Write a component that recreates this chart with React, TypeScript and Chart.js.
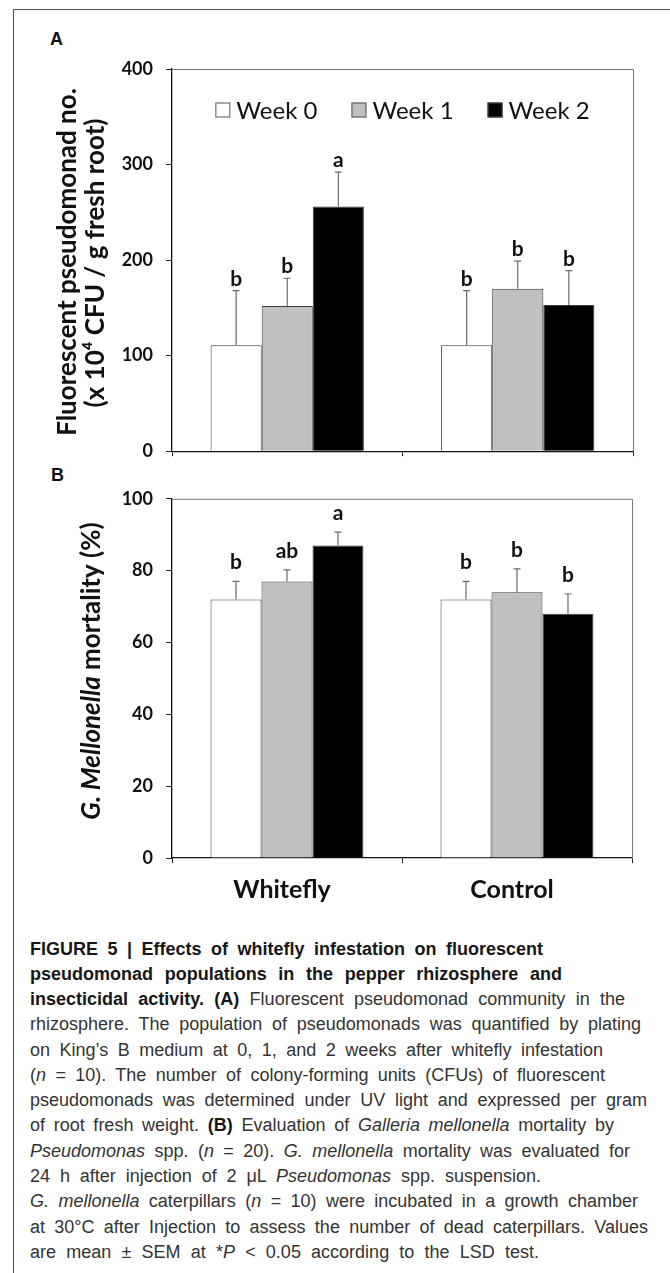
import React, { useEffect, useRef } from 'react';
import { Chart, registerables } from 'chart.js';

Chart.register(...registerables);

// ---------------- data ----------------
const categories = ['Whitefly', 'Control'];
const weekLabels = ['Week 0', 'Week 1', 'Week 2'];

// Panel A: fluorescent pseudomonad no. (x 10^4 CFU / g fresh root)
const pseudoWeek0 = [111, 111];
const pseudoWeek1 = [152, 170];
const pseudoWeek2 = [256, 153];
const pseudoSem0 = [57, 57];
const pseudoSem1 = [29, 29];
const pseudoSem2 = [36, 36];
const pseudoLetters0 = ['b', 'b'];
const pseudoLetters1 = ['b', 'b'];
const pseudoLetters2 = ['a', 'b'];
const pseudoMin = 0;
const pseudoMax = 400;
const pseudoStep = 100;

// Panel B: G. mellonella mortality (%)
const mortWeek0 = [72, 72];
const mortWeek1 = [77, 74];
const mortWeek2 = [87, 68];
const mortSem0 = [5, 5];
const mortSem1 = [3.2, 6.5];
const mortSem2 = [3.7, 5.5];
const mortLetters0 = ['b', 'b'];
const mortLetters1 = ['ab', 'b'];
const mortLetters2 = ['a', 'b'];
const mortMin = 0;
const mortMax = 100;
const mortStep = 20;

// ---------------- styles ----------------
const FONT = 'Lato, "Open Sans", "DejaVu Sans", sans-serif';
const weekColors = ['#ffffff', '#c0c0c0', '#000000'];
const BAR_BORDER = '#3a3a3a';
const INK = '#111111';

type Seg = { t: string; it?: boolean };
type TitleLine = { x: number; y: number; segs: Seg[] };

function errorLetterPlugin(sems: number[][], letters: string[][], gap: number) {
  return {
    id: 'errLetters',
    afterDatasetsDraw(chart: any) {
      const { ctx } = chart;
      const ys = chart.scales.y;
      chart.data.datasets.forEach((ds: any, i: number) => {
        const meta = chart.getDatasetMeta(i);
        meta.data.forEach((bar: any, j: number) => {
          const v = ds.data[j] as number;
          const e = sems[i][j];
          const yTop = ys.getPixelForValue(v);
          const yErr = ys.getPixelForValue(v + e);
          const x = bar.x;
          ctx.save();
          ctx.strokeStyle = '#6a6a6a';
          ctx.lineWidth = 1.2;
          ctx.beginPath();
          ctx.moveTo(x, yTop);
          ctx.lineTo(x, yErr);
          ctx.moveTo(x - 3.5, yErr);
          ctx.lineTo(x + 3.5, yErr);
          ctx.stroke();
          ctx.fillStyle = INK;
          ctx.font = `bold 21px ${FONT}`;
          ctx.textAlign = 'center';
          ctx.textBaseline = 'alphabetic';
          ctx.fillText(letters[i][j], x, yErr - gap);
          ctx.restore();
        });
      });
    },
  };
}

const framePlugin = {
  id: 'frame',
  beforeDatasetsDraw(chart: any) {
    const { ctx, chartArea } = chart;
    ctx.save();
    ctx.strokeStyle = '#7a7a7a';
    ctx.lineWidth = 1;
    ctx.beginPath();
    ctx.moveTo(chartArea.left, chartArea.top + 0.5);
    ctx.lineTo(chartArea.right + 0.5, chartArea.top + 0.5);
    ctx.lineTo(chartArea.right + 0.5, chartArea.bottom);
    ctx.stroke();
    ctx.restore();
  },
};

function titlePlugin(lines: TitleLine[], size: number) {
  return {
    id: 'rotTitle',
    afterDraw(chart: any) {
      const { ctx } = chart;
      lines.forEach((ln) => {
        ctx.save();
        ctx.translate(ln.x, ln.y);
        ctx.rotate(-Math.PI / 2);
        ctx.fillStyle = INK;
        ctx.textBaseline = 'middle';
        ctx.textAlign = 'left';
        const fonts = ln.segs.map((s) => `${s.it ? 'italic ' : ''}bold ${size}px ${FONT}`);
        let total = 0;
        const widths = ln.segs.map((s, k) => {
          ctx.font = fonts[k];
          const w = ctx.measureText(s.t).width;
          total += w;
          return w;
        });
        let cx = -total / 2;
        ln.segs.forEach((s, k) => {
          ctx.font = fonts[k];
          ctx.fillText(s.t, cx, 0);
          cx += widths[k];
        });
        ctx.restore();
      });
    },
  };
}

function legendPlugin(centerY: number) {
  return {
    id: 'customLegend',
    afterDraw(chart: any) {
      const { ctx, chartArea } = chart;
      const box = 15;
      const boxGap = 6;
      const itemGap = 34;
      ctx.save();
      ctx.font = `24px ${FONT}`;
      const items = chart.data.datasets.map((ds: any) => ({
        label: ds.label as string,
        color: ds.backgroundColor as string,
        w: ctx.measureText(ds.label).width,
      }));
      const total =
        items.reduce((s: number, it: any) => s + box + boxGap + it.w, 0) + itemGap * (items.length - 1);
      let x = (chartArea.left + chartArea.right) / 2 - total / 2;
      items.forEach((it: any) => {
        ctx.fillStyle = it.color;
        ctx.fillRect(x, centerY - box / 2, box, box);
        ctx.strokeStyle = '#555';
        ctx.lineWidth = 1;
        ctx.strokeRect(x + 0.5, centerY - box / 2 + 0.5, box - 1, box - 1);
        ctx.fillStyle = INK;
        ctx.textBaseline = 'middle';
        ctx.textAlign = 'left';
        ctx.fillText(it.label, x + box + boxGap, centerY + 1);
        x += box + boxGap + it.w + itemGap;
      });
      ctx.restore();
    },
  };
}

function buildConfig(p: {
  values: number[][];
  sems: number[][];
  letters: string[][];
  min: number;
  max: number;
  step: number;
  padding: { left: number; right: number; top: number; bottom: number };
  xHeight: number;
  showX: boolean;
  gap: number;
  titles: TitleLine[];
  legendY?: number;
}): any {
  const plugins: any[] = [framePlugin, errorLetterPlugin(p.sems, p.letters, p.gap), titlePlugin(p.titles, 26)];
  if (p.legendY !== undefined) plugins.push(legendPlugin(p.legendY));
  return {
    type: 'bar',
    data: {
      labels: categories,
      datasets: weekLabels.map((label, i) => ({
        label,
        data: p.values[i],
        backgroundColor: weekColors[i],
        borderColor: BAR_BORDER,
        borderWidth: 1,
        categoryPercentage: 0.665,
        barPercentage: 1,
      })),
    },
    options: {
      animation: false,
      responsive: false,
      maintainAspectRatio: false,
      layout: { padding: p.padding },
      plugins: { legend: { display: false }, tooltip: { enabled: false }, title: { display: false } },
      scales: {
        x: {
          offset: true,
          grid: {
            offset: true,
            display: true,
            drawOnChartArea: false,
            drawTicks: true,
            tickLength: 5,
            color: '#222',
            lineWidth: 1,
          },
          border: { display: true, color: '#111', width: 1.3 },
          ticks: {
            display: p.showX,
            font: { family: FONT, size: 25, weight: 'bold' },
            color: INK,
            padding: 12,
            labelOffset: -5,
          },
          afterFit: (s: any) => {
            s.height = p.xHeight;
          },
        },
        y: {
          min: p.min,
          max: p.max,
          grid: { drawOnChartArea: false, drawTicks: true, tickLength: 6, color: '#222', lineWidth: 1 },
          border: { display: true, color: '#111', width: 1.3 },
          ticks: {
            stepSize: p.step,
            font: { family: FONT, size: 18, weight: 'bold' },
            color: INK,
            padding: 13,
          },
          afterFit: (s: any) => {
            s.width = 60;
          },
        },
      },
    },
    plugins,
  };
}

type CapSeg = { t: string; b?: boolean; i?: boolean };
const captionLines: { w: number; segs: CapSeg[] }[] = [
  { w: 513, segs: [{ t: 'FIGURE 5 | Effects of whitefly infestation on fluorescent', b: true }] },
  { w: 532, segs: [{ t: 'pseudomonad populations in the pepper rhizosphere and', b: true }] },
  {
    w: 595,
    segs: [
      { t: 'insecticidal activity. (A)', b: true },
      { t: ' Fluorescent pseudomonad community in the' },
    ],
  },
  { w: 611, segs: [{ t: 'rhizosphere. The population of pseudomonads was quantified by plating' }] },
  { w: 573, segs: [{ t: 'on King\u2019s B medium at 0, 1, and 2 weeks after whitefly infestation' }] },
  {
    w: 575,
    segs: [
      { t: '(' },
      { t: 'n', i: true },
      { t: ' = 10). The number of colony-forming units (CFUs) of fluorescent' },
    ],
  },
  { w: 617, segs: [{ t: 'pseudomonads was determined under UV light and expressed per gram' }] },
  {
    w: 584,
    segs: [
      { t: 'of root fresh weight. ' },
      { t: '(B)', b: true },
      { t: ' Evaluation of ' },
      { t: 'Galleria mellonella', i: true },
      { t: ' mortality by' },
    ],
  },
  {
    w: 600,
    segs: [
      { t: 'Pseudomonas', i: true },
      { t: ' spp. (' },
      { t: 'n', i: true },
      { t: ' = 20). ' },
      { t: 'G. mellonella', i: true },
      { t: ' mortality was evaluated for' },
    ],
  },
  {
    w: 511,
    segs: [
      { t: '24 h after injection of 2 \u03bcL ' },
      { t: 'Pseudomonas', i: true },
      { t: ' spp. suspension.' },
    ],
  },
  {
    w: 608,
    segs: [
      { t: 'G. mellonella', i: true },
      { t: ' caterpillars (' },
      { t: 'n', i: true },
      { t: ' = 10) were incubated in a growth chamber' },
    ],
  },
  { w: 618, segs: [{ t: 'at 30\u00b0C after Injection to assess the number of dead caterpillars. Values' }] },
  {
    w: 509,
    segs: [
      { t: 'are mean \u00b1 SEM at *' },
      { t: 'P', i: true },
      { t: ' < 0.05 according to the LSD test.' },
    ],
  },
];

export default function App() {
  const refA = useRef<HTMLCanvasElement>(null);
  const refB = useRef<HTMLCanvasElement>(null);

  useEffect(() => {
    let cancelled = false;
    const charts: Chart[] = [];
    const build = () => {
      if (cancelled || !refA.current || !refB.current) return;
      charts.push(
        new Chart(
          refA.current,
          buildConfig({
            values: [pseudoWeek0, pseudoWeek1, pseudoWeek2],
            sems: [pseudoSem0, pseudoSem1, pseudoSem2],
            letters: [pseudoLetters0, pseudoLetters1, pseudoLetters2],
            min: pseudoMin,
            max: pseudoMax,
            step: pseudoStep,
            padding: { left: 112, right: 37, top: 69, bottom: 5 },
            xHeight: 8,
            showX: false,
            gap: 5,
            titles: [
              { x: 68, y: 262, segs: [{ t: 'Fluorescent pseudomonad no.' }] },
              { x: 96, y: 263, segs: [{ t: '(x 10\u2074 CFU / g fresh root)' }] },
            ],
            legendY: 110,
          })
        )
      );
      charts.push(
        new Chart(
          refB.current,
          buildConfig({
            values: [mortWeek0, mortWeek1, mortWeek2],
            sems: [mortSem0, mortSem1, mortSem2],
            letters: [mortLetters0, mortLetters1, mortLetters2],
            min: mortMin,
            max: mortMax,
            step: mortStep,
            padding: { left: 112, right: 38, top: 19, bottom: 7 },
            xHeight: 50,
            showX: true,
            gap: 12,
            titles: [
              {
                x: 92,
                y: 196,
                segs: [{ t: 'G. Mellonella', it: true }, { t: ' mortality (%)' }],
              },
            ],
          })
        )
      );
    };
    const fs: any = (document as any).fonts;
    if (fs && fs.load) {
      Promise.all([
        fs.load(`bold 20px Lato`),
        fs.load(`20px Lato`),
        fs.load(`italic bold 20px Lato`),
      ]).then(build, build);
    } else {
      build();
    }
    return () => {
      cancelled = true;
      charts.forEach((c) => c.destroy());
    };
  }, []);

  const lineH = 25.28;
  const firstCenter = 951;

  return (
    <div
      style={{
        position: 'absolute',
        left: 0,
        top: 0,
        width: 670,
        height: 1273,
        overflow: 'hidden',
        background: '#ffffff',
      }}
    >
      <div
        style={{
          position: 'absolute',
          left: 13,
          top: 9,
          width: 657,
          height: 1264,
          borderLeft: '1.5px solid #555',
          borderTop: '1.5px solid #555',
          boxSizing: 'border-box',
        }}
      />
      <div
        style={{
          position: 'absolute',
          left: 50,
          top: 28,
          font: 'bold 18px "Liberation Sans", Arial, sans-serif',
          color: INK,
          lineHeight: '22px',
        }}
      >
        A
      </div>
      <div
        style={{
          position: 'absolute',
          left: 51,
          top: 464,
          font: 'bold 18px "Liberation Sans", Arial, sans-serif',
          color: INK,
          lineHeight: '22px',
        }}
      >
        B
      </div>
      <canvas
        ref={refA}
        width={670}
        height={475}
        style={{ position: 'absolute', left: 0, top: 0, width: 670, height: 475, display: 'block' }}
      />
      <canvas
        ref={refB}
        width={670}
        height={440}
        style={{ position: 'absolute', left: 0, top: 475, width: 670, height: 440, display: 'block' }}
      />
      {captionLines.map((ln, k) => (
        <div
          key={k}
          style={{
            position: 'absolute',
            left: 30,
            top: firstCenter + k * lineH - 12.5,
            width: ln.w,
            height: 25,
            lineHeight: '25px',
            font: '18px "Liberation Sans", Arial, Helvetica, sans-serif',
            color: '#333',
            whiteSpace: 'nowrap',
            textAlign: 'justify',
            textAlignLast: 'justify' as any,
          }}
        >
          {ln.segs.map((s, j) => (
            <span
              key={j}
              style={{
                fontWeight: s.b ? 'bold' : 'normal',
                fontStyle: s.i ? 'italic' : 'normal',
                color: s.b ? '#161616' : '#333',
              }}
            >
              {s.t}
            </span>
          ))}
        </div>
      ))}
    </div>
  );
}
